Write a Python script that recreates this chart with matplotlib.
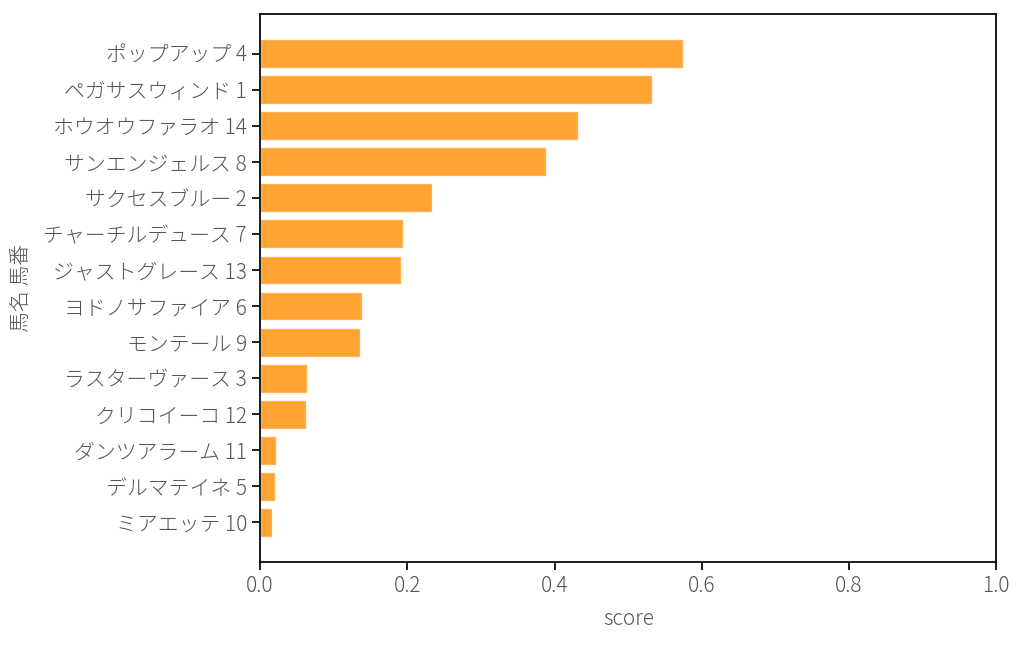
import matplotlib
matplotlib.use("Agg")
import matplotlib.pyplot as plt

plt.rcParams["font.family"] = ["Noto Sans CJK JP", "DejaVu Sans"]

horses = [
    "ポップアップ 4", "ペガサスウィンド 1", "ホウオウファラオ 14", "サンエンジェルス 8",
    "サクセスブルー 2", "チャーチルデュース 7", "ジャストグレース 13", "ヨドノサファイア 6",
    "モンテール 9", "ラスターヴァース 3", "クリコイーコ 12", "ダンツアラーム 11",
    "デルマテイネ 5", "ミアエッテ 10",
]
scores = [0.574, 0.532, 0.432, 0.388, 0.233, 0.194, 0.192, 0.138, 0.136,
          0.064, 0.063, 0.022, 0.020, 0.016]

text_color = "#555555"
fs = 15

fig, ax = plt.subplots(figsize=(10.24, 6.45), dpi=100)
fig.subplots_adjust(left=0.254, right=0.973, top=0.978, bottom=0.129)

ax.barh(horses, scores, height=0.8, color="darkorange", alpha=0.8,
        edgecolor="white", linewidth=1)
ax.invert_yaxis()
ax.set_xlim(0, 1.0)

ax.set_xlabel("score", fontsize=fs, color=text_color, fontweight="light", labelpad=8)
ax.set_ylabel("馬名 馬番", fontsize=fs, color=text_color, fontweight="light", labelpad=8)
ax.tick_params(axis="both", labelsize=fs, labelcolor=text_color, length=6, width=1.25)
for sp in ax.spines.values():
    sp.set_linewidth(1.25)
for lbl in ax.get_xticklabels() + ax.get_yticklabels():
    lbl.set_fontweight("light")

fig.savefig("out.png", dpi=100)
